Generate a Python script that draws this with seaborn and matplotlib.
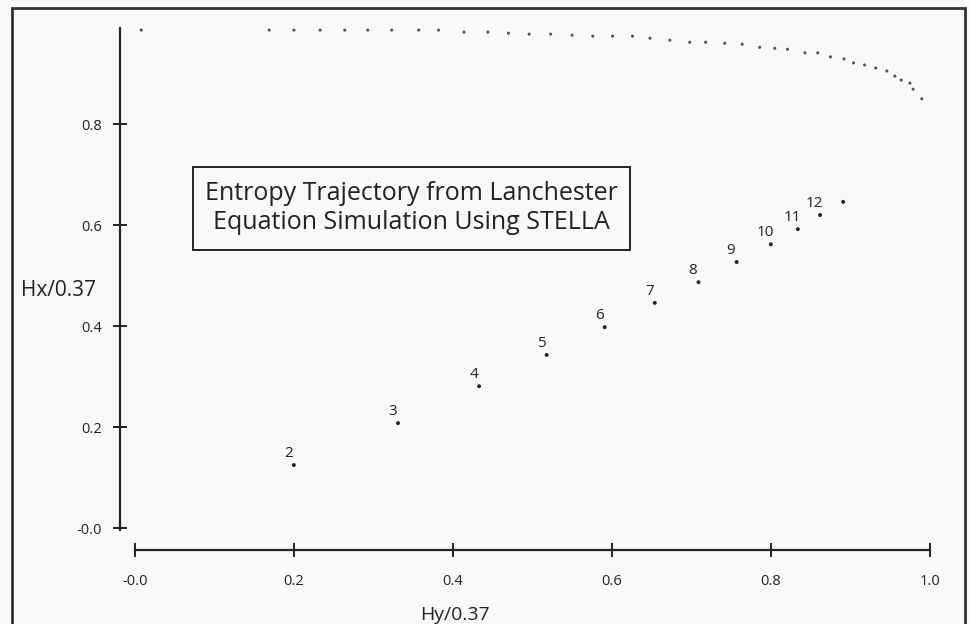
import numpy as np
import pandas as pd
import matplotlib
matplotlib.use("Agg")
import matplotlib.pyplot as plt
from matplotlib.patches import Rectangle
import seaborn as sns

# Trajectory points (labelled by step)
step_labels = ["2", "3", "4", "5", "6", "7", "8", "9", "10", "11", "12", ""]
hy_traj = [0.200, 0.331, 0.433, 0.518, 0.591, 0.654, 0.709, 0.757, 0.800, 0.834, 0.862, 0.891]
hx_traj = [0.125, 0.208, 0.281, 0.343, 0.398, 0.446, 0.487, 0.527, 0.562, 0.592, 0.620, 0.646]

# Upper dotted curve
hy_curve = [0.008, 0.169, 0.200, 0.233, 0.264, 0.293, 0.323, 0.357, 0.382, 0.414, 0.444,
            0.470, 0.496, 0.523, 0.550, 0.576, 0.601, 0.626, 0.648, 0.673, 0.698, 0.718,
            0.742, 0.764, 0.786, 0.805, 0.821, 0.843, 0.859, 0.875, 0.892, 0.904, 0.918,
            0.932, 0.946, 0.956, 0.964, 0.975, 0.979, 0.990]
hx_curve = [0.986, 0.986, 0.986, 0.986, 0.986, 0.986, 0.986, 0.986, 0.986, 0.982, 0.982,
            0.980, 0.978, 0.978, 0.976, 0.974, 0.974, 0.974, 0.970, 0.966, 0.962, 0.962,
            0.960, 0.958, 0.952, 0.950, 0.948, 0.941, 0.941, 0.933, 0.929, 0.921, 0.917,
            0.911, 0.905, 0.895, 0.887, 0.881, 0.869, 0.850]

x_ticks = [0.0, 0.2, 0.4, 0.6, 0.8, 1.0]
x_ticklabels = ["-0.0", "0.2", "0.4", "0.6", "0.8", "1.0"]
y_ticks = [0.0, 0.2, 0.4, 0.6, 0.8]
y_ticklabels = ["-0.0", "0.2", "0.4", "0.6", "0.8"]

traj = pd.DataFrame({"Hy": hy_traj, "Hx": hx_traj, "step": step_labels})
curve = pd.DataFrame({"Hy": hy_curve, "Hx": hx_curve})

sns.set_style("white")
plt.rcParams["font.family"] = ["Open Sans", "DejaVu Sans"]

bg = "#f8f8f8"
ink = "#222222"

fig = plt.figure(figsize=(9.69, 6.24), dpi=100, facecolor=bg)
# axes placed so that data 0..1 maps to the reference pixel positions
ax = fig.add_axes([119 / 969, 1 - 560 / 624, (960 - 119) / 969, (560 - 20) / 624])
ax.set_facecolor(bg)
ax.set_xlim(-0.02, 1.038)
ax.set_ylim(-0.063, 1.006)

sns.scatterplot(data=curve, x="Hy", y="Hx", ax=ax, s=5, color="#555555",
                edgecolor="none", legend=False)
sns.scatterplot(data=traj, x="Hy", y="Hx", ax=ax, s=8, color=ink,
                edgecolor="none", legend=False)

for _, row in traj.iterrows():
    if row["step"]:
        ax.annotate(row["step"], (row["Hy"], row["Hx"]), xytext=(-4, 3),
                    textcoords="offset points", fontsize=11, color=ink,
                    ha="center", va="bottom")

# offset axis lines like the original plot
for side in ["top", "right"]:
    ax.spines[side].set_visible(False)
ax.spines["left"].set_position(("data", -0.019))
ax.spines["left"].set_bounds(-0.004, 0.99)
ax.spines["bottom"].set_position(("data", -0.044))
ax.spines["bottom"].set_bounds(0.0, 1.0)
for side in ["left", "bottom"]:
    ax.spines[side].set_linewidth(1.6)
    ax.spines[side].set_color(ink)

ax.set_xticks(x_ticks)
ax.set_xticklabels(x_ticklabels)
ax.set_yticks(y_ticks)
ax.set_yticklabels(y_ticklabels)
ax.tick_params(axis="both", bottom=True, left=True, direction="inout", length=10,
               width=1.4, color=ink, labelsize=10.5, labelcolor=ink)
ax.tick_params(axis="x", pad=12)
ax.tick_params(axis="y", pad=8)

ax.set_xlabel("Hy/0.37", fontsize=14, color=ink)
ax.xaxis.set_label_coords(0.40, -0.085)
ax.set_ylabel("Hx/0.37", fontsize=15, color=ink, rotation=0, ha="left", va="center")
ax.yaxis.set_label_coords(-0.116, 0.50)

ax.text(0.348, 0.634, "Entropy Trajectory from Lanchester\nEquation Simulation Using STELLA",
        ha="center", va="center", fontsize=18, color=ink, linespacing=1.2)
ax.add_patch(Rectangle((0.073, 0.55), 0.55, 0.165, fill=False, edgecolor=ink, linewidth=1.4))

# outer frame of the scanned figure
fig.patches.append(Rectangle((12 / 969, -0.05), (965 - 12) / 969, 1.05 - 8 / 624,
                             transform=fig.transFigure, fill=False,
                             edgecolor="#333333", linewidth=2))

fig.savefig("out.png", dpi=100, facecolor=bg)
